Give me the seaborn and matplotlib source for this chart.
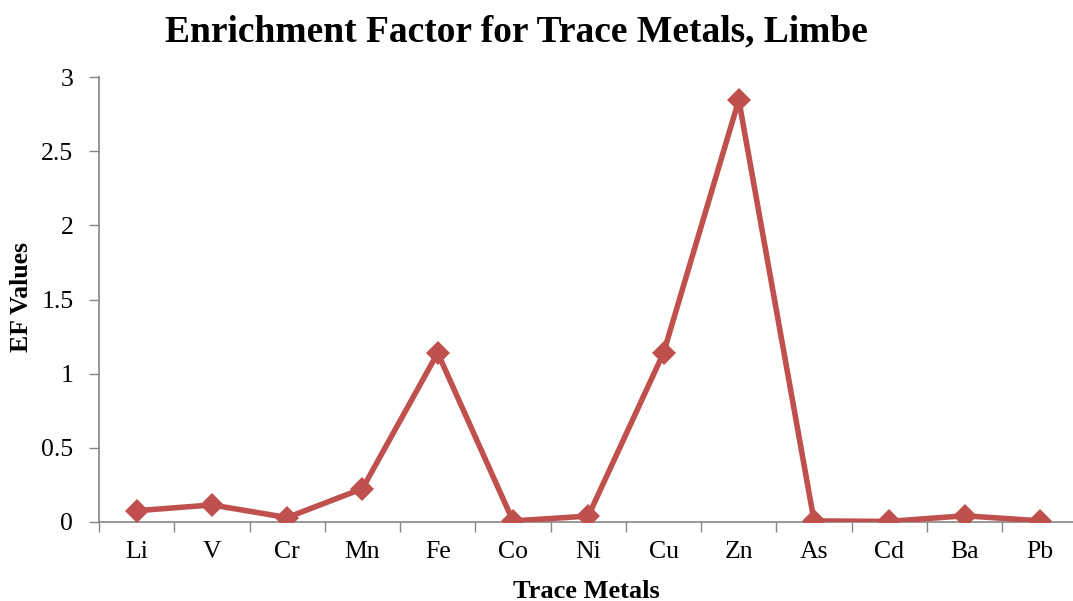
import numpy as np
import pandas as pd
import seaborn as sns
import matplotlib.pyplot as plt
from matplotlib.ticker import FixedLocator

metals = ["Li", "V", "Cr", "Mn", "Fe", "Co", "Ni", "Cu", "Zn", "As", "Cd", "Ba", "Pb"]
ef_values = [0.076, 0.115, 0.03, 0.225, 1.14, 0.007, 0.04, 1.14, 2.845, 0.007, 0.004, 0.042, 0.008]

df = pd.DataFrame({"metal": metals, "ef": ef_values})

sns.set_style("white")
plt.rcParams['font.family'] = ['Liberation Serif', 'DejaVu Serif']
plt.rcParams['text.color'] = 'black'
plt.rcParams['axes.labelcolor'] = 'black'
plt.rcParams['xtick.labelcolor'] = 'black'
plt.rcParams['ytick.labelcolor'] = 'black'

fig = plt.figure(figsize=(10.73, 6.01), dpi=100)
ax = fig.add_axes([99 / 1073, 1 - 522 / 601, 1 - 99 / 1073, (522 - 77) / 601])

x = np.arange(len(metals))
sns.lineplot(x=x, y=df["ef"], ax=ax, color="#C0504D", linewidth=4,
             marker="D", markersize=12, markeredgewidth=0, markerfacecolor="#C0504D")

ax.set_xlim(-0.5, len(metals) - 0.56)
ax.set_ylim(0, 3)
ax.set_yticks([0, 0.5, 1, 1.5, 2, 2.5, 3])
ax.set_yticklabels(["0", "0.5", "1", "1.5", "2", "2.5", "3"])
ax.set_xticks(x)
ax.set_xticklabels(metals)
ax.xaxis.set_minor_locator(FixedLocator(np.arange(-0.5, len(metals), 1.0)))

ax.tick_params(axis="x", which="major", length=0, pad=14, labelsize=18.5)
ax.tick_params(axis="x", which="minor", length=7, width=1, color="#868686", direction="out", bottom=True)
ax.tick_params(axis="y", length=7, width=1, color="#868686", direction="out", left=True, labelsize=18.5, pad=11.5)

for s in ["top", "right"]:
    ax.spines[s].set_visible(False)
for s in ["left", "bottom"]:
    ax.spines[s].set_color("#868686")
    ax.spines[s].set_linewidth(1.2)
ax.spines["bottom"].set_zorder(0)

ax.set_xlabel("Trace Metals", fontsize=19, fontweight="bold", labelpad=12)
ax.set_ylabel("EF Values", fontsize=18.5, fontweight="bold")
ax.yaxis.set_label_coords(-0.068, 0.506)
fig.suptitle("Enrichment Factor for Trace Metals, Limbe", fontsize=27, fontweight="bold", x=0.481, y=0.976)

plt.savefig("out.png", dpi=100)
